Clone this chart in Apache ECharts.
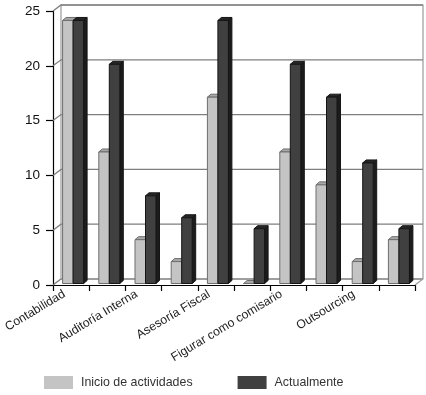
<!DOCTYPE html>
<html><head><meta charset="utf-8">
<style>html,body{margin:0;padding:0;background:#fff}#c{width:426px;height:395px}</style>
<script src="https://cdn.jsdelivr.net/npm/echarts@6/dist/echarts.min.js"></script>
</head><body><div id="c"></div>
<script>
const categories = ['Contabilidad','','Auditoría Interna','','Asesoría Fiscal','','Figurar como comisario','','Outsourcing',''];
const inicio = [24,12,4,2,17,0,12,9,2,4];
const actual = [24,20,8,6,24,5,20,17,11,5];
const yTicks = [0,5,10,15,20,25];
const FONT = '"Liberation Sans", Arial, sans-serif';
const chart = echarts.init(document.getElementById('c'), null, {renderer:'canvas'});
const DX = 8, DY = -6;      // back wall offset
const BW = 10.5, SX = 3.5, SY = 3;   // bar width, side depth

function barSeries(name, values, slot, front, top, side, stroke){
  return {
    name, type:'custom', coordinateSystem:'cartesian2d', clip:false, z:3,
    itemStyle:{color:front, borderColor:stroke},
    data: values.map((v,i)=>[i,v]),
    encode:{x:0,y:1},
    renderItem(params, api){
      const c = api.coord([api.value(0), api.value(1)]);
      const b = api.coord([api.value(0), 0]);
      const x0 = c[0] + 2 - BW + slot*BW, x1 = x0 + BW;
      const yT = c[1] - 1.5, yB = b[1] - 1.5;
      const ln = {stroke, lineWidth:1};
      return {type:'group', children:[
        {type:'polygon', shape:{points:[[x1,yT],[x1+SX,yT-SY],[x1+SX,yB-SY],[x1,yB]]}, style:{fill:side, ...ln}},
        {type:'polygon', shape:{points:[[x0,yT],[x0+SX,yT-SY],[x1+SX,yT-SY],[x1,yT]]}, style:{fill:top, ...ln}},
        {type:'rect', shape:{x:x0,y:yT,width:BW,height:Math.max(0,yB-yT)}, style:{fill:front, ...ln}}
      ]};
    }
  };
}
const wall = {
  type:'custom', coordinateSystem:'cartesian2d', clip:false, z:1, silent:true,
  data: yTicks.map(v=>[0,v]),
  encode:{x:0,y:1},
  renderItem(params, api){
    const p = api.coord([0, api.value(1)]);
    const size = api.size([1,0])[0];
    const x0 = p[0] - size/2, x1 = x0 + size*categories.length;
    const s = {stroke:'#7f7f7f', lineWidth:1.3, fill:null};
    const kids = [
      {type:'polyline', shape:{points:[[x0,p[1]],[x0+DX,p[1]+DY],[x1+DX,p[1]+DY]]}, style:s}
    ];
    if (api.value(1) === 0) {
      const t = api.coord([0, yTicks[yTicks.length-1]]);
      kids.push({type:'polyline', shape:{points:[[x0+DX,p[1]+DY],[x0+DX,t[1]+DY],[x1+DX,t[1]+DY],[x1+DX,p[1]+DY],[x1,p[1]]]}, style:{stroke:'#9a9a9a', lineWidth:1.2, fill:null}});
    }
    return {type:'group', children:kids};
  }
};
chart.setOption({
  animation:false,
  backgroundColor:'#fff',
  grid:{left:53, right:11, top:11, bottom:110, containLabel:false, outerBoundsMode:'none'},
  legend:{
    data:['Inicio de actividades','Actualmente'],
    left:44, top:376, padding:0, itemWidth:29, itemHeight:13, itemGap:45,
    icon:'rect',
    textStyle:{fontFamily:FONT, fontSize:12.4, color:'#333', padding:[0,0,0,3]}
  },
  xAxis:{
    type:'category', data:categories,
    axisLine:{lineStyle:{color:'#000',width:1.2}},
    axisTick:{show:true, length:6, lineStyle:{color:'#000',width:1.2}},
    axisLabel:{interval:0, rotate:31, fontFamily:FONT, fontSize:12.2, color:'#222', margin:4, padding:[0,8,0,0], hideOverlap:false},
    splitLine:{show:false}
  },
  yAxis:{
    type:'value', min:0, max:25, interval:5,
    axisLine:{show:true, lineStyle:{color:'#000',width:1.2}},
    axisTick:{show:true, length:7, lineStyle:{color:'#000',width:1.2}},
    axisLabel:{fontFamily:FONT, fontSize:13.5, color:'#111', margin:13},
    splitLine:{show:false}
  },
  series:[
    wall,
    barSeries('Inicio de actividades', inicio, 0, '#c4c4c4', '#a8a8a8', '#8f8f8f', '#6e6e6e'),
    barSeries('Actualmente', actual, 1, '#404040', '#262626', '#1c1c1c', '#151515')
  ]
});
</script></body></html>
